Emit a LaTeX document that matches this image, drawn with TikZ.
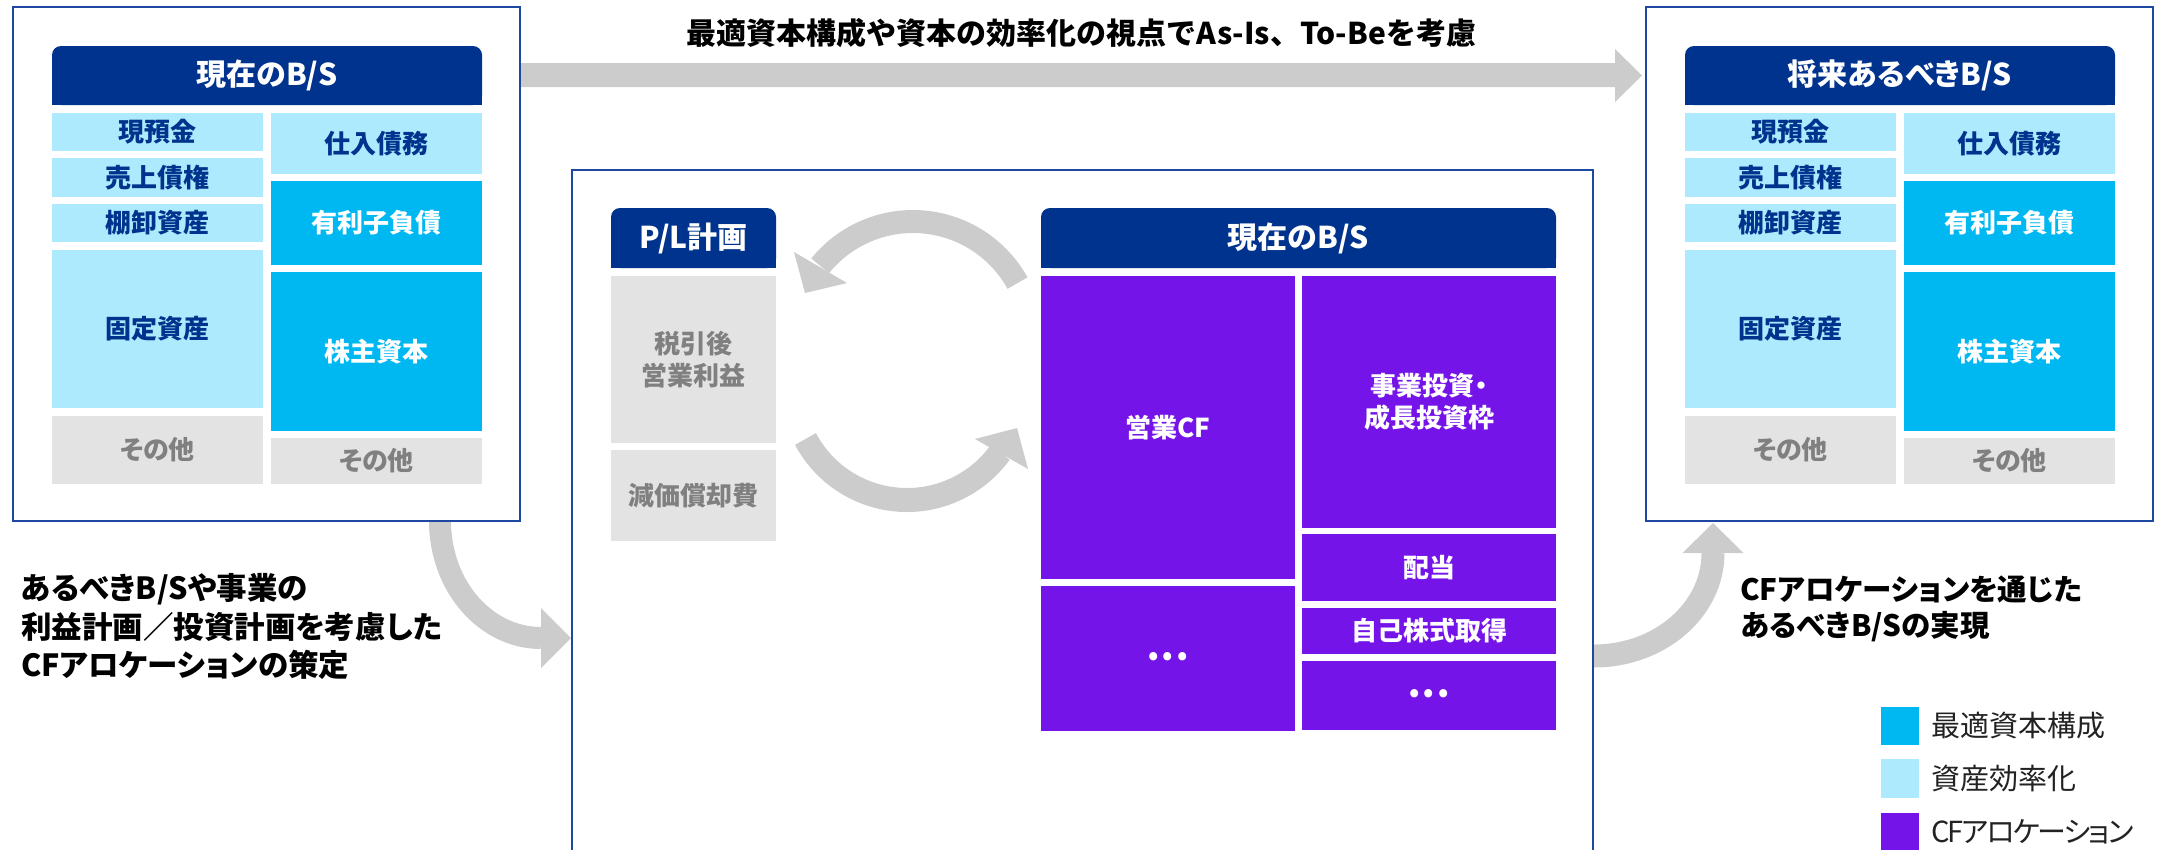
\documentclass[tikz,border=0pt]{standalone}
\usepackage{fontspec}
\setmainfont{Noto Sans CJK JP}
\newfontfamily\jp{Noto Sans CJK JP}
\newfontfamily\jpp{Noto Sans CJK JP}[RawFeature=+palt]
\newfontfamily\jpn{Noto Sans CJK JP}[RawFeature=+palt, LetterSpace=-7]
\usetikzlibrary{calc}
\definecolor{navy}{HTML}{00338D}
\definecolor{lblue}{HTML}{ADEAFD}
\definecolor{bblue}{HTML}{00B8F1}
\definecolor{lgray}{HTML}{E3E3E3}
\definecolor{gtext}{HTML}{808080}
\definecolor{purp}{HTML}{7414E8}
\definecolor{bordblue}{HTML}{1C48A0}
\definecolor{arrgray}{HTML}{CCCCCC}
\definecolor{legtext}{HTML}{222222}
\tikzset{
  cellbase/.style={inner sep=0pt, outer sep=0pt, align=center, font=\jpp\bfseries\fontsize{26}{31.6}\selectfont},
  lb/.style={cellbase, fill=lblue, text=navy},
  bb/.style={cellbase, fill=bblue, text=white},
  gc/.style={cellbase, fill=lgray, text=gtext},
  pc/.style={cellbase, fill=purp, text=white},
  hdrtext/.style={inner sep=0pt, text=white, font=\jpp\bfseries\fontsize{30}{36}\selectfont},
  outerbox/.style={draw=bordblue, line width=2.6pt, fill=white, inner sep=0pt},
  band/.style={draw=arrgray},
  head/.style={fill=arrgray},
  bodytext/.style={inner sep=0pt, text=black, align=left},
  legsq/.style={inner sep=0pt},
  legtxt/.style={inner sep=0pt, text=legtext, anchor=west, font=\jpp\fontsize{29}{34}\selectfont},
}
% name, x1, y1, x2, y2, style, text
\newcommand\cellat[7]{\node[#6, minimum width=#4pt-#2pt, minimum height=#5pt-#3pt] (#1) at ({(#2+#4)/2},{(#3+#5)/2}) {#7};}
% name, x1, y1, x2, y2, text
\newcommand\hdrat[6]{%
  \fill[navy, rounded corners=9pt] (#2,#3) rectangle (#4,#5);
  \fill[navy] (#2,{(#3+#5)/2}) rectangle (#4,#5);
  \node[hdrtext] (#1) at ({(#2+#4)/2},{(#3+#5)/2}) {#6};}
\begin{document}
\begin{tikzpicture}[x=1pt,y=-1pt]
\useasboundingbox (0,0) rectangle (2158,849);
\clip (0,0) rectangle (2158,849);

% ---------- gray arrows (behind boxes) ----------
\fill[arrgray] (515,63) -- (1615,63) -- (1615,49) -- (1642,75.5) -- (1615,102) -- (1615,87) -- (515,87) -- cycle;

% left curved arrow
\draw[band, line width=22pt] (440,505) -- (440,521) arc[start angle=180, end angle=90, x radius=101, y radius=117];
\fill[head] (541,608) -- (571,638) -- (541,668) -- cycle;

% right curved arrow
\draw[band, line width=23pt] (1580,656) -- (1594,656) arc[start angle=90, end angle=0, x radius=119, y radius=103];
\fill[head] (1682.5,553) -- (1713,523) -- (1743.5,553) -- cycle;

% ---------- outer boxes ----------
\cellat{Lbox}{13}{7}{520}{521}{outerbox}{}
\cellat{Rbox}{1646}{7}{2153}{521}{outerbox}{}
\cellat{Mbox}{572}{170}{1593}{920}{outerbox}{}

% ---------- left B/S ----------
\hdrat{Lhdr}{52}{46}{482}{105}{現在のB/S}
\cellat{L1}{52}{113}{263}{151}{lb}{現預金}
\cellat{L2}{52}{158}{263}{197}{lb}{売上債権}
\cellat{L3}{52}{204}{263}{242}{lb}{棚卸資産}
\cellat{L4}{52}{250}{263}{408}{lb}{固定資産}
\cellat{L5}{52}{416}{263}{484}{gc}{その他}
\cellat{L6}{271}{113}{482}{174}{lb}{仕入債務}
\cellat{L7}{271}{181}{482}{265}{bb}{有利子負債}
\cellat{L8}{271}{272}{482}{431}{bb}{株主資本}
\cellat{L9}{271}{438}{482}{484}{gc}{その他}

% ---------- right B/S ----------
\hdrat{Rhdr}{1685}{46}{2115}{105}{将来あるべきB/S}
\cellat{R1}{1685}{113}{1896}{151}{lb}{現預金}
\cellat{R2}{1685}{158}{1896}{197}{lb}{売上債権}
\cellat{R3}{1685}{204}{1896}{242}{lb}{棚卸資産}
\cellat{R4}{1685}{250}{1896}{408}{lb}{固定資産}
\cellat{R5}{1685}{416}{1896}{484}{gc}{その他}
\cellat{R6}{1904}{113}{2115}{174}{lb}{仕入債務}
\cellat{R7}{1904}{181}{2115}{265}{bb}{有利子負債}
\cellat{R8}{1904}{272}{2115}{431}{bb}{株主資本}
\cellat{R9}{1904}{438}{2115}{484}{gc}{その他}

% ---------- middle ----------
\hdrat{PLhdr}{611}{208}{776}{268}{P/L計画}
\cellat{P1}{611}{276}{776}{443}{gc}{税引後\\営業利益}
\cellat{P2}{611}{450}{776}{541}{gc}{減価償却費}
\hdrat{Mhdr}{1041}{208}{1556}{268}{現在のB/S}
\cellat{M1}{1041}{276}{1295}{579}{pc}{営業CF}
\cellat{M2}{1041}{586}{1295}{731}{pc}{•\hspace{4pt}•\hspace{4pt}•}
\cellat{M3}{1302}{276}{1556}{528}{pc}{事業投資・\\成長投資枠}
\cellat{M4}{1302}{534}{1556}{601}{pc}{配当}
\cellat{M5}{1302}{608}{1556}{654}{pc}{自己株式取得}
\cellat{M6}{1302}{661}{1556}{730}{pc}{•\hspace{4pt}•\hspace{4pt}•}

% cycle arrows
\draw[band, line width=23pt] ($(913,341)+(-29:119.5)$) arc[start angle=-29, end angle=-141, radius=119.5];
\fill[head] (794,252) -- (805,293) -- (847,283) -- cycle;
\draw[band, line width=24pt] ($(907,385)+(152:115)$) arc[start angle=152, end angle=36, radius=115];
\fill[head] (975,439) -- (1017,428) -- (1028,469) -- cycle;

% ---------- texts ----------
\node[bodytext, font=\jp\bfseries\fontsize{30}{36}\selectfont] (ttl) at (1081.5,33.5) {最適資本構成や資本の効率化の視点でAs-Is、To-Beを考慮};
\node[bodytext, anchor=west, font=\jpp\bfseries\fontsize{30.5}{38.75}\selectfont] (ltxt) at (21,626.5) {あるべきB/Sや事業の\\利益計画／投資計画を考慮した\\CFアロケーションの策定};
\node[bodytext, anchor=west, font=\jpp\bfseries\fontsize{29.5}{36.7}\selectfont] (rtxt) at (1740,609) {CFアロケーションを通じた\\あるべきB/Sの実現};

% ---------- legend ----------
\cellat{G1}{1881}{707}{1919}{745}{legsq, fill=bblue}{}
\cellat{G2}{1881}{759}{1919}{798}{legsq, fill=lblue}{}
\cellat{G3}{1881}{813}{1919}{851}{legsq, fill=purp}{}
\node[legtxt] (G1t) at (1931,726) {最適資本構成};
\node[legtxt] (G2t) at (1931,778.5) {資産効率化};
\node[legtxt, font=\jpn\fontsize{29}{34}\selectfont] (G3t) at (1931,832) {CFアロケーション};
\end{tikzpicture}
\end{document}
